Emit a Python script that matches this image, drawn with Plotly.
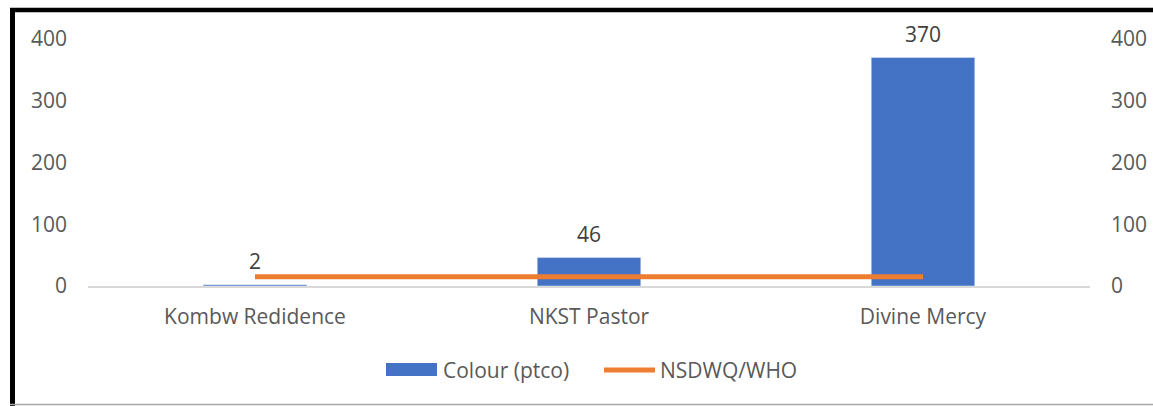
import plotly.graph_objects as go

# Sampling sites and measured colour values
sites = ["Kombw Redidence", "NKST Pastor", "Divine Mercy"]
colour_ptco = [2, 46, 370]
# NSDWQ/WHO permissible limit for colour
limit = [15, 15, 15]

bar_name = "Colour (ptco)"
line_name = "NSDWQ/WHO"

BLUE = "#4472C4"
ORANGE = "#ED7D31"
TICK = "#595959"
FONT = "'Open Sans', sans-serif"
FS = 21

fig = go.Figure()
fig.add_trace(go.Bar(
    x=sites, y=colour_ptco, name=bar_name, marker_color=BLUE,
    width=0.31, showlegend=False,
))
fig.add_trace(go.Scatter(
    x=sites, y=limit, name=line_name, mode="lines", yaxis="y2",
    line=dict(color=ORANGE, width=5), showlegend=False,
))

# plot area geometry (pixels) used to place the frame and legend
W, H = 1153, 406
L, R, T, B = 88, 63, 39, 120
pw, ph = W - L - R, H - T - B

def px(x):
    return (x - L) / pw

def py(y):
    return (H - B - y) / ph

shapes = [
    # frame: heavy top and left edges, thin grey bottom edge
    dict(type="line", xref="paper", yref="paper", x0=px(10), x1=px(1153),
         y0=py(10), y1=py(10), line=dict(color="black", width=4.5)),
    dict(type="line", xref="paper", yref="paper", x0=px(12.5), x1=px(12.5),
         y0=py(8), y1=py(406), line=dict(color="black", width=5)),
    dict(type="line", xref="paper", yref="paper", x0=px(10), x1=px(1153),
         y0=py(404.5), y1=py(404.5), line=dict(color="#A6A6A6", width=1.5)),
    # legend keys
    dict(type="rect", xref="paper", yref="paper", x0=px(386), x1=px(437),
         y0=py(376), y1=py(363), fillcolor=BLUE, line=dict(width=0)),
    dict(type="line", xref="paper", yref="paper", x0=px(604), x1=px(655),
         y0=py(370), y1=py(370), line=dict(color=ORANGE, width=5)),
]

annotations = [
    dict(text=bar_name, xref="paper", yref="paper", x=px(441), y=py(370),
         xanchor="left", yanchor="middle", showarrow=False,
         font=dict(size=FS, color=TICK, family=FONT)),
    dict(text=line_name, xref="paper", yref="paper", x=px(658), y=py(370),
         xanchor="left", yanchor="middle", showarrow=False,
         font=dict(size=FS, color=TICK, family=FONT)),
]

# value labels above each bar
for s, v in zip(sites, colour_ptco):
    annotations.append(dict(
        text=str(v), x=s, y=v, xref="x", yref="y", xanchor="center",
        yanchor="bottom", yshift=8, showarrow=False,
        font=dict(size=FS, color="#404040", family=FONT),
    ))

fig.update_layout(
    width=W, height=H,
    margin=dict(l=L, r=R, t=T, b=B, autoexpand=False),
    paper_bgcolor="white", plot_bgcolor="white",
    font=dict(family=FONT, size=FS, color=TICK),
    shapes=shapes, annotations=annotations,
    xaxis=dict(showgrid=False, showline=True, linecolor="#D9D9D9",
               linewidth=1.5, ticks="", ticklabelstandoff=11,
               automargin=False, tickfont=dict(size=FS, color=TICK)),
    yaxis=dict(range=[0, 400], dtick=100, showgrid=False, zeroline=False,
               showline=False, ticks="", ticklabelstandoff=20,
               automargin=False, tickfont=dict(size=FS, color=TICK)),
    yaxis2=dict(range=[0, 400], dtick=100, overlaying="y", side="right",
                showgrid=False, zeroline=False, showline=False, ticks="",
                ticklabelstandoff=20, automargin=False,
                tickfont=dict(size=FS, color=TICK)),
)

fig.write_html("out.html")
